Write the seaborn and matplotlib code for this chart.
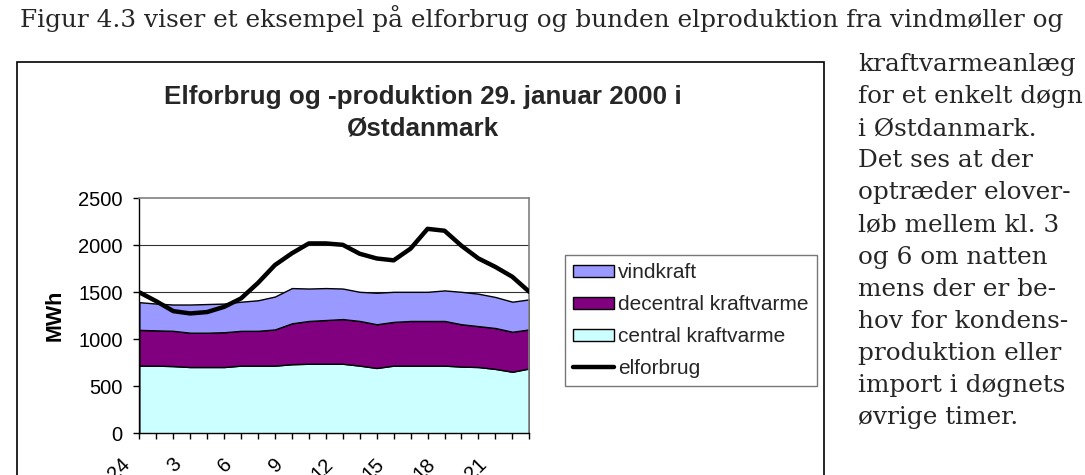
import matplotlib
matplotlib.use("Agg")
import matplotlib.pyplot as plt
import matplotlib.transforms as mtransforms
from matplotlib.patches import Patch, Rectangle
from matplotlib.lines import Line2D
import numpy as np
import pandas as pd
import seaborn as sns

# timer i døgnet (kategorier paa x-aksen)
hours = ["24", "1", "2", "3", "4", "5", "6", "7", "8", "9", "10", "11",
         "12", "13", "14", "15", "16", "17", "18", "19", "20", "21", "22", "23"]
shown_labels = ["24", "3", "6", "9", "12", "15", "18", "21"]

# produktion i MWh (aflaest fra figuren)
central = [720, 720, 715, 705, 705, 705, 720, 720, 720, 735, 740, 740,
           740, 720, 695, 720, 720, 720, 720, 710, 705, 685, 655, 690]
decentral = [380, 375, 375, 365, 365, 370, 370, 370, 385, 435, 455, 465,
             475, 475, 465, 465, 475, 475, 475, 450, 435, 435, 425, 415]
vind = [295, 285, 280, 300, 305, 305, 310, 325, 350, 375, 345, 340,
        325, 310, 335, 320, 310, 310, 325, 345, 345, 330, 320, 320]
elforbrug = [1500, 1405, 1300, 1275, 1290, 1345, 1435, 1600, 1790, 1915, 2020, 2020,
             2005, 1910, 1860, 1840, 1965, 2175, 2155, 1995, 1860, 1770, 1665, 1505]

series_names = ["vindkraft", "decentral kraftvarme", "central kraftvarme", "elforbrug"]
colors = {"vindkraft": "#9999FF", "decentral kraftvarme": "#800080",
          "central kraftvarme": "#CCFFFF"}

df = pd.DataFrame({"time": hours, "central": central, "decentral": decentral,
                   "vind": vind, "elforbrug": elforbrug})
df["pos"] = np.arange(len(df))

sns.set_theme(style="white")
plt.rcParams["font.family"] = ["Liberation Sans", "DejaVu Sans"]

W, H = 1085, 475
fig = plt.figure(figsize=(W / 100, H / 100), dpi=100)
fig.patch.set_facecolor("white")

def fx(px):
    return px / W

def fy(py):
    return 1 - py / H

ax = fig.add_axes([fx(139.3), fy(433.3), fx(529.3) - fx(139.3), fy(198.3) - fy(433.3)])

# gitterlinjer under arealerne
for v in [500, 1000, 1500, 2000]:
    ax.axhline(v, color="#333333", lw=0.8, zorder=0)

ax.stackplot(df["pos"], df["central"], df["decentral"], df["vind"],
             colors=[colors["central kraftvarme"], colors["decentral kraftvarme"], colors["vindkraft"]],
             edgecolor="black", linewidth=1.0, zorder=2)
sns.lineplot(data=df, x="pos", y="elforbrug", color="black", lw=3.2, ax=ax,
             legend=False, zorder=3)

ax.set_xlim(0, len(df) - 1)
ax.set_ylim(0, 2500)
ax.set_yticks([0, 500, 1000, 1500, 2000, 2500])
ax.set_xticks(df["pos"])
ax.set_xticklabels([h if h in shown_labels else "" for h in df["time"]])
ax.tick_params(axis="y", direction="out", length=4, width=1, pad=8, labelsize=14.5,
               colors="black", left=True)
ax.tick_params(axis="x", direction="out", length=4, width=1, pad=16, labelsize=14.5,
               colors="black", bottom=True)
offset = mtransforms.ScaledTranslation(-12 / 100, 0, fig.dpi_scale_trans)
for lbl in ax.get_xticklabels():
    lbl.set_rotation(45)
    lbl.set_rotation_mode("anchor")
    lbl.set_ha("right")
    lbl.set_va("center")
    lbl.set_transform(lbl.get_transform() + offset)

ax.set_xlabel("")
ax.set_ylabel("MWh", fontsize=15.5, fontweight="bold", color="black")
ax.yaxis.set_label_coords((55 - 139.3) / 390, 0.5)
ax.yaxis.label.set_va("center")

for side in ["left", "bottom"]:
    ax.spines[side].set_color("black")
    ax.spines[side].set_linewidth(1.0)
for side in ["top", "right"]:
    ax.spines[side].set_color("#808080")
    ax.spines[side].set_linewidth(1.2)
ax.set_facecolor("white")

# diagramramme
fig.patches.append(Rectangle((fx(16.7), -0.05), fx(824) - fx(16.7), fy(61.7) + 0.05,
                             transform=fig.transFigure, fill=False,
                             edgecolor="black", lw=1.2))

fig.text(fx(423), fy(97), "Elforbrug og -produktion 29. januar 2000 i",
         ha="center", va="center", fontsize=18.7, fontweight="bold")
fig.text(fx(423), fy(129), "Østdanmark",
         ha="center", va="center", fontsize=18.7, fontweight="bold")

handles = [Patch(facecolor=colors[n], edgecolor="black", lw=1.0) for n in series_names[:3]]
handles.append(Line2D([0], [0], color="black", lw=3.2))
leg = fig.legend(handles, series_names, loc="upper left",
                 bbox_to_anchor=(fx(565), fy(255)), bbox_transform=fig.transFigure,
                 fontsize=15, frameon=True, fancybox=False, borderaxespad=0,
                 handlelength=1.95, handleheight=0.5, handletextpad=0.2,
                 labelspacing=0.62, borderpad=0.4)
leg.get_frame().set_edgecolor("#555555")
leg.get_frame().set_linewidth(1.0)

# broedtekst omkring figuren
serif = ["DejaVu Serif"]
fig.text(fx(20), fy(27), "Figur 4.3 viser et eksempel på elforbrug og bunden elproduktion fra vindmøller og",
         ha="left", va="baseline", fontsize=17.8, family=serif)
side_lines = ["kraftvarmeanlæg", "for et enkelt døgn", "i Østdanmark.", "Det ses at der",
              "optræder elover-", "løb mellem kl. 3", "og 6 om natten", "mens der er be-",
              "hov for kondens-", "produktion eller", "import i døgnets", "øvrige timer."]
for i, line in enumerate(side_lines):
    fig.text(fx(858), fy(71 + 32.1 * i), line, ha="left", va="baseline",
             fontsize=17.8, family=serif)

fig.savefig("out.png", dpi=100, facecolor="white")
